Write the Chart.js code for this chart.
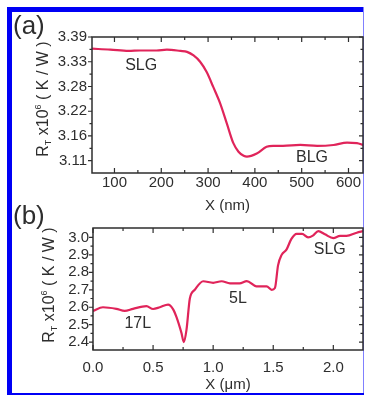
<!DOCTYPE html>
<html><head><meta charset="utf-8">
<script src="https://cdn.jsdelivr.net/npm/chart.js@4"></script>
<style>
html,body{margin:0;padding:0;background:#fff;width:365px;height:396px;overflow:hidden;position:relative;font-family:"Liberation Sans",Arial,sans-serif}
.frame{position:absolute;background:#0000f5}
.wrap{position:absolute;left:0;width:365px}
canvas{display:block}
.plabel{position:absolute;font-size:26px;color:#2e2e2e;line-height:1}
</style></head><body>
<div class="frame" style="left:7px;top:7px;width:357px;height:5px"></div>
<div class="frame" style="left:7px;top:7px;width:5px;height:388px"></div>
<div class="frame" style="left:363px;top:7px;width:1px;height:388px;background:#8080ff"></div>
<div class="frame" style="left:7px;top:393px;width:357px;height:2px"></div>
<div class="wrap" style="top:0;height:215px"><canvas id="ca" width="365" height="215"></canvas></div>
<div class="wrap" style="top:215px;height:181px"><canvas id="cb" width="365" height="181"></canvas></div>
<div class="plabel" style="left:13px;top:12px">(a)</div>
<div class="plabel" style="left:13px;top:202px">(b)</div>
<script>
// Panel (a) data
const xA = [52, 91, 130, 155, 190, 212, 241, 255, 269, 283, 297, 311, 326, 340, 354, 365, 376, 383, 404, 425, 439, 460, 497, 533, 568, 597, 618, 631];
const yA = [3.359, 3.357, 3.354, 3.355, 3.355, 3.357, 3.354, 3.352, 3.344, 3.330, 3.307, 3.274, 3.237, 3.193, 3.149, 3.130, 3.121, 3.119, 3.126, 3.141, 3.143, 3.143, 3.145, 3.143, 3.145, 3.150, 3.149, 3.145];
const xTicksA = [100, 200, 300, 400, 500, 600];
const yTicksA = [3.11, 3.165, 3.22, 3.275, 3.33, 3.385];
const yTickLabelsA = ['3.11', '3.16', '3.22', '3.28', '3.33', '3.39'];
const notesA = [{text:'SLG', x:157, y:3.322}, {text:'BLG', x:522, y:3.118}];

// Panel (b) data
const xB = [0, 0.083, 0.194, 0.264, 0.333, 0.445, 0.5, 0.556, 0.625, 0.667, 0.695, 0.736, 0.756, 0.778, 0.806, 0.847, 0.917, 1.0, 1.07, 1.14, 1.22, 1.28, 1.36, 1.445, 1.487, 1.514, 1.54, 1.57, 1.61, 1.65, 1.695, 1.74, 1.79, 1.83, 1.875, 1.93, 2.0, 2.056, 2.11, 2.195, 2.247];
const yB = [2.579, 2.600, 2.591, 2.579, 2.591, 2.606, 2.590, 2.600, 2.615, 2.588, 2.543, 2.453, 2.400, 2.470, 2.650, 2.700, 2.749, 2.740, 2.749, 2.737, 2.737, 2.750, 2.720, 2.720, 2.700, 2.710, 2.840, 2.900, 2.930, 2.990, 3.020, 3.020, 3.000, 3.010, 3.036, 3.018, 2.996, 3.009, 3.009, 3.027, 3.036];
const xTicksB = [0, 0.5, 1.0, 1.5, 2.0];
const yTicksB = [2.4, 2.5, 2.6, 2.7, 2.8, 2.9, 3.0];
const notesB = [{text:'17L', x:0.373, y:2.505}, {text:'5L', x:1.206, y:2.65}, {text:'SLG', x:1.97, y:2.93}];

const FONT = '"Liberation Sans", Arial, sans-serif';
const INK = '#2e2e2e';
const LINE = '#e0245a';

function drawYTitle(ctx, cx, cy, size) {
  ctx.save();
  ctx.translate(cx, cy);
  ctx.rotate(-Math.PI / 2);
  ctx.fillStyle = INK;
  ctx.textBaseline = 'middle';
  ctx.textAlign = 'left';
  const big = size + 'px ' + FONT, small = Math.round(size * 0.55) + 'px ' + FONT;
  const parts = [
    {t:'R', f:big, dy:0}, {t:'T', f:small, dy:size*0.3},
    {t:' x10', f:big, dy:0}, {t:'6', f:small, dy:-size*0.35},
    {t:' ( K / W )', f:big, dy:0}
  ];
  let total = 0;
  parts.forEach(p => { ctx.font = p.f; p.w = ctx.measureText(p.t).width; total += p.w; });
  let x = -total / 2;
  parts.forEach(p => { ctx.font = p.f; ctx.fillText(p.t, x, p.dy); x += p.w; });
  ctx.restore();
}

function decorPlugin(cfg) {
  return {
    id: 'decor',
    afterDatasetsDraw(chart) {
      const ctx = chart.ctx;
      const {left, right, top, bottom} = chart.chartArea;
      const xs = chart.scales.x, ys = chart.scales.y;
      ctx.save();
      ctx.strokeStyle = INK;
      ctx.lineWidth = 1.5;
      ctx.strokeRect(left, top, right - left, bottom - top);
      ctx.lineWidth = 1.2;
      ctx.beginPath();
      const xt = cfg.xTicks, yt = cfg.yTicks;
      const xMinor = [], yMinor = [];
      for (let i = 0; i < xt.length; i++) {
        const step = (i + 1 < xt.length ? xt[i + 1] - xt[i] : xt[i] - xt[i - 1]);
        xMinor.push(xt[i] + step / 2);
        if (i === 0) xMinor.push(xt[0] - step / 2);
      }
      for (let i = 0; i < yt.length - 1; i++) yMinor.push((yt[i] + yt[i + 1]) / 2);
      xt.forEach(v => { const p = xs.getPixelForValue(v); if (p < left - 0.5 || p > right + 0.5) return;
        ctx.moveTo(p, bottom); ctx.lineTo(p, bottom - 5); ctx.moveTo(p, top); ctx.lineTo(p, top + 5); });
      xMinor.forEach(v => { const p = xs.getPixelForValue(v); if (p < left + 1 || p > right - 1) return;
        ctx.moveTo(p, bottom); ctx.lineTo(p, bottom - 3); ctx.moveTo(p, top); ctx.lineTo(p, top + 3); });
      yt.forEach(v => { const p = ys.getPixelForValue(v);
        ctx.moveTo(left, p); ctx.lineTo(left - 4, p); ctx.moveTo(right, p); ctx.lineTo(right - 4, p); });
      yMinor.forEach(v => { const p = ys.getPixelForValue(v);
        ctx.moveTo(left, p); ctx.lineTo(left - 2.5, p); ctx.moveTo(right, p); ctx.lineTo(right - 2.5, p); });
      ctx.stroke();
      ctx.fillStyle = INK;
      ctx.font = '16px ' + FONT;
      ctx.textAlign = 'center';
      ctx.textBaseline = 'middle';
      cfg.notes.forEach(n => ctx.fillText(n.text, xs.getPixelForValue(n.x), ys.getPixelForValue(n.y)));
      drawYTitle(ctx, cfg.titleX, cfg.titleY, 16);
      ctx.restore();
    }
  };
}

function makeChart(id, xv, yv, o) {
  const data = xv.map((x, i) => ({x, y: yv[i]}));
  return new Chart(document.getElementById(id), {
    type: 'line',
    data: {datasets: [{data, borderColor: LINE, borderWidth: 2.2, pointRadius: 0, cubicInterpolationMode: 'monotone', fill: false}]},
    options: {
      responsive: false, animation: false, events: [],
      layout: {padding: {left: 0, right: o.padRight, top: o.padTop, bottom: 0}},
      plugins: {legend: {display: false}, tooltip: {enabled: false}},
      scales: {
        x: {
          type: 'linear', min: o.xMin, max: o.xMax,
          afterBuildTicks: s => { s.ticks = o.xTicks.map(v => ({value: v})); },
          afterFit: s => { s.height = o.xAxisH; },
          grid: {display: false, drawTicks: false}, border: {display: false},
          ticks: {color: INK, font: {size: 15, family: FONT}, padding: o.xPad, maxRotation: 0, autoSkip: false,
            callback: o.xFmt},
          title: {display: true, text: o.xTitle, color: INK, font: {size: 15, family: FONT}, padding: {top: 0, bottom: o.xTitlePad}}
        },
        y: {
          type: 'linear', min: o.yMin, max: o.yMax,
          afterBuildTicks: s => { s.ticks = o.yTicks.map(v => ({value: v})); },
          afterFit: s => { s.width = o.yAxisW; },
          grid: {display: false, drawTicks: false}, border: {display: false},
          ticks: {color: INK, font: {size: 15, family: FONT}, padding: o.yPad, autoSkip: false,
            callback: o.yFmt}
        }
      }
    },
    plugins: [decorPlugin({xTicks: o.xTicks, yTicks: o.yTicks, notes: o.notes, titleX: o.titleX, titleY: o.titleY})]
  });
}

makeChart('ca', xA, yA, {
  padRight: 2, padTop: 37, xAxisH: 42, yAxisW: 92, xPad: 1, xTitlePad: 0, yPad: 5,
  xMin: 52, xMax: 631, yMin: 3.0827, yMax: 3.385,
  xTicks: xTicksA, yTicks: yTicksA,
  xFmt: v => String(v), yFmt: (v, i) => yTickLabelsA[i],
  xTitle: 'X (nm)', notes: notesA, titleX: 44, titleY: 99
});

makeChart('cb', xB, yB, {
  padRight: 2, padTop: 5, xAxisH: 46, yAxisW: 93, xPad: 9, xTitlePad: 2, yPad: 4,
  xMin: 0, xMax: 2.247, yMin: 2.355, yMax: 3.054,
  xTicks: xTicksB, yTicks: yTicksB,
  xFmt: v => v.toFixed(1), yFmt: v => v.toFixed(1),
  xTitle: 'X (\u03bcm)', notes: notesB, titleX: 50, titleY: 70
});
</script>
</body></html>
